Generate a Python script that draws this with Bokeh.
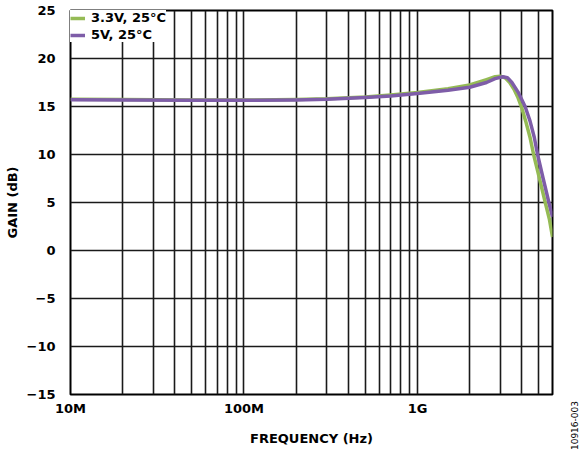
from bokeh.plotting import figure
from bokeh.layouts import row
from bokeh.models import FixedTicker, Legend, LegendItem, Div
from bokeh.embed import file_html
from bokeh.resources import INLINE

# ---- data ----
freq_33 = [1e7, 2e7, 5e7, 1e8, 2e8, 3e8, 5e8, 7e8, 1e9, 1.5e9, 2e9, 2.5e9, 2.8e9, 3.0e9,
           3.2e9, 3.4e9, 3.6e9, 3.8e9, 4.0e9, 4.2e9, 4.45e9, 4.67e9, 5.0e9, 5.45e9, 5.75e9, 6.0e9]
gain_33 = [15.75, 15.72, 15.68, 15.68, 15.72, 15.8, 16.0, 16.2, 16.45, 16.85, 17.25, 17.8, 18.1, 18.15,
           18.0, 17.5, 16.8, 15.9, 14.8, 13.5, 11.8, 10.0, 7.8, 5.0, 3.3, 1.4]

freq_5 = [1e7, 2e7, 5e7, 1e8, 2e8, 3e8, 5e8, 7e8, 1e9, 1.5e9, 2e9, 2.5e9, 2.8e9, 3.1e9,
          3.3e9, 3.5e9, 3.8e9, 4.17e9, 4.45e9, 4.71e9, 4.92e9, 5.3e9, 5.72e9, 6.0e9]
gain_5 = [15.7, 15.68, 15.65, 15.65, 15.68, 15.75, 15.95, 16.1, 16.35, 16.7, 17.0, 17.5, 17.9, 18.1,
          18.0, 17.5, 16.5, 15.0, 13.5, 11.8, 10.0, 7.5, 5.0, 3.5]

series_names = ["3.3V, 25°C", "5V, 25°C"]

x_major_ticks = [1e7, 1e8, 1e9]
x_major_labels = ["10M", "100M", "1G"]
x_minor_ticks = [2e7, 3e7, 4e7, 5e7, 6e7, 7e7, 8e7, 9e7,
                 2e8, 3e8, 4e8, 5e8, 6e8, 7e8, 8e8, 9e8,
                 2e9, 3e9, 4e9, 5e9]
y_ticks = [-15, -10, -5, 0, 5, 10, 15, 20, 25]
y_labels = ["\u221215", "\u221210", "\u22125", "0", "5", "10", "15", "20", "25"]
figure_code = "10916-003"

GREEN = "#95BB55"
PURPLE = "#7E5DA8"
GRID = "#1a1a1a"
FONT = "DejaVu Sans"

p = figure(width=554, height=450, x_axis_type="log",
           x_range=(1e7, 6e9), y_range=(-15, 25),
           output_backend="svg", toolbar_location=None,
           min_border_left=70, min_border_right=2,
           min_border_top=10, min_border_bottom=56)

p.background_fill_color = "white"
p.border_fill_color = "white"
p.outline_line_color = "black"
p.outline_line_width = 2
p.outline_line_alpha = 1

# axes
xt = FixedTicker(ticks=x_major_ticks, minor_ticks=x_minor_ticks)
p.xaxis.ticker = xt
p.xaxis.major_label_overrides = {t: l for t, l in zip(x_major_ticks, x_major_labels)}
yt = FixedTicker(ticks=y_ticks)
p.yaxis.ticker = yt
p.yaxis.major_label_overrides = {t: l for t, l in zip(y_ticks, y_labels)}

for ax in (p.xaxis, p.yaxis):
    ax.axis_line_color = None
    ax.major_tick_line_color = None
    ax.minor_tick_line_color = None
    ax.major_label_text_font = FONT
    ax.major_label_text_font_style = "bold"
    ax.major_label_text_font_size = "13px"
    ax.major_label_text_color = "black"
    ax.axis_label_text_font = FONT
    ax.axis_label_text_font_style = "bold"
    ax.axis_label_text_font_size = "13px"
    ax.axis_label_text_color = "black"

p.xaxis.axis_label = "FREQUENCY (Hz)"
p.yaxis.axis_label = "GAIN (dB)"
p.xaxis.major_label_standoff = 0
p.xaxis.axis_label_standoff = 12
p.yaxis.major_label_standoff = 9
p.yaxis.axis_label_standoff = 4

# grid
p.xgrid.ticker = xt
p.xgrid.grid_line_color = GRID
p.xgrid.grid_line_width = 1.6
p.xgrid.minor_grid_line_color = GRID
p.xgrid.minor_grid_line_width = 1.6
p.ygrid.ticker = yt
p.ygrid.grid_line_color = GRID
p.ygrid.grid_line_width = 1.6

# curves
r1 = p.line(freq_33, gain_33, line_color=GREEN, line_width=3.5, line_join="round")
r2 = p.line(freq_5, gain_5, line_color=PURPLE, line_width=3.5, line_join="round")

legend = Legend(items=[LegendItem(label=series_names[0], renderers=[r1]),
                       LegendItem(label=series_names[1], renderers=[r2])],
                location="top_left")
legend.margin = 0
legend.padding = 5
legend.spacing = 2
legend.label_height = 14
legend.glyph_height = 14
legend.glyph_width = 15
legend.label_standoff = 6
legend.border_line_color = None
legend.background_fill_color = "white"
legend.background_fill_alpha = 1
legend.label_text_font = FONT
legend.label_text_font_style = "bold"
legend.label_text_font_size = "13px"
legend.label_text_color = "black"
p.add_layout(legend, "center")

# vertical figure code to the right of the chart (reads bottom to top)
code = Div(
    text=('<div style="margin-top:396px; margin-left:12px; writing-mode:vertical-rl; '
          'transform:rotate(180deg); font-family:\'DejaVu Sans\'; font-size:9px; '
          'line-height:9px; color:black; white-space:nowrap;">' + figure_code + '</div>'),
    width=28, height=450)

layout = row(p, code, spacing=0)
open("out.html", "w").write(file_html(layout, INLINE))
